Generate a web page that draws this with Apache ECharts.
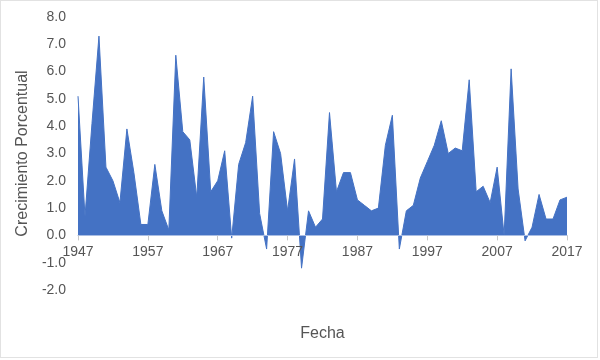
<!DOCTYPE html>
<html>
<head>
<meta charset="utf-8">
<script src="https://cdn.jsdelivr.net/npm/echarts@6/dist/echarts.min.js"></script>
<style>
html,body{margin:0;padding:0;background:#fff;}
#chart{width:596px;height:356px;border:1px solid #e2e2e2;}
</style>
</head>
<body>
<div id="chart"></div>
<script>
const years = [
  '1947','1948','1949','1950','1951','1952','1953','1954','1955','1956',
  '1957','1958','1959','1960','1961','1962','1963','1964','1965','1966',
  '1967','1968','1969','1970','1971','1972','1973','1974','1975','1976',
  '1977','1978','1979','1980','1981','1982','1983','1984','1985','1986',
  '1987','1988','1989','1990','1991','1992','1993','1994','1995','1996',
  '1997','1998','1999','2000','2001','2002','2003','2004','2005','2006',
  '2007','2008','2009','2010','2011','2012','2013','2014','2015','2016',
  '2017'
];
const growth = [
  5.1, 0.7, 4.1, 7.3, 2.5, 2.0, 1.2, 3.9, 2.3, 0.4,
  0.4, 2.6, 0.9, 0.2, 6.6, 3.8, 3.5, 1.4, 5.8, 1.6,
  2.0, 3.1, -0.1, 2.6, 3.4, 5.1, 0.8, -0.5, 3.8, 3.0,
  0.9, 2.8, -1.2, 0.9, 0.3, 0.6, 4.5, 1.6, 2.3, 2.3,
  1.3, 1.1, 0.9, 1.0, 3.3, 4.4, -0.5, 0.9, 1.1, 2.1,
  2.7, 3.3, 4.2, 3.0, 3.2, 3.1, 5.7, 1.6, 1.8, 1.2,
  2.5, 0.0, 6.1, 1.7, -0.2, 0.3, 1.5, 0.6, 0.6, 1.3,
  1.4
];
const yTitle = 'Crecimiento Porcentual';
const xTitle = 'Fecha';

const chart = echarts.init(document.getElementById('chart'));
const font = 'Liberation Sans, Arial, sans-serif';
chart.setOption({
  animation: false,
  grid: { left: 77, right: 30, top: 16, bottom: 67, containLabel: false, outerBoundsMode: 'none' },
  xAxis: {
    type: 'category',
    data: years,
    boundaryGap: false,
    z: 10,
    offset: 0,
    name: xTitle,
    nameLocation: 'middle',
    nameGap: 90,
    nameTextStyle: { color: '#555', fontSize: 16, fontFamily: font },
    axisLine: { show: true, onZero: false, lineStyle: { color: '#a9bde3', width: 1 } },
    axisTick: { show: true, interval: 9, length: 5, lineStyle: { color: '#c8c8c8' } },
    axisLabel: { interval: 9, color: '#555', fontSize: 14, fontFamily: font, margin: 10 },
    splitLine: { show: false }
  },
  yAxis: {
    type: 'value',
    min: -2,
    max: 8,
    interval: 1,
    name: yTitle,
    nameLocation: 'middle',
    nameGap: 38,
    nameTextStyle: { color: '#555', fontSize: 16, fontFamily: font },
    axisLine: { show: false },
    axisTick: { show: false },
    splitLine: { show: false },
    axisLabel: {
      color: '#555', fontSize: 14, fontFamily: font, margin: 12,
      formatter: v => v.toFixed(1)
    }
  },
  series: [{
    type: 'line',
    data: growth,
    symbol: 'none',
    lineStyle: { width: 1, color: '#4472C4' },
    itemStyle: { color: '#4472C4' },
    areaStyle: { color: '#4472C4', opacity: 1 }
  }]
});
// place the x axis on the zero line of the value axis (via the library's own scale)
const zeroY = chart.convertToPixel({ yAxisIndex: 0 }, 0);
const bottomY = chart.convertToPixel({ yAxisIndex: 0 }, -2);
chart.setOption({ xAxis: { offset: -(bottomY - zeroY) } });
</script>
</body>
</html>
